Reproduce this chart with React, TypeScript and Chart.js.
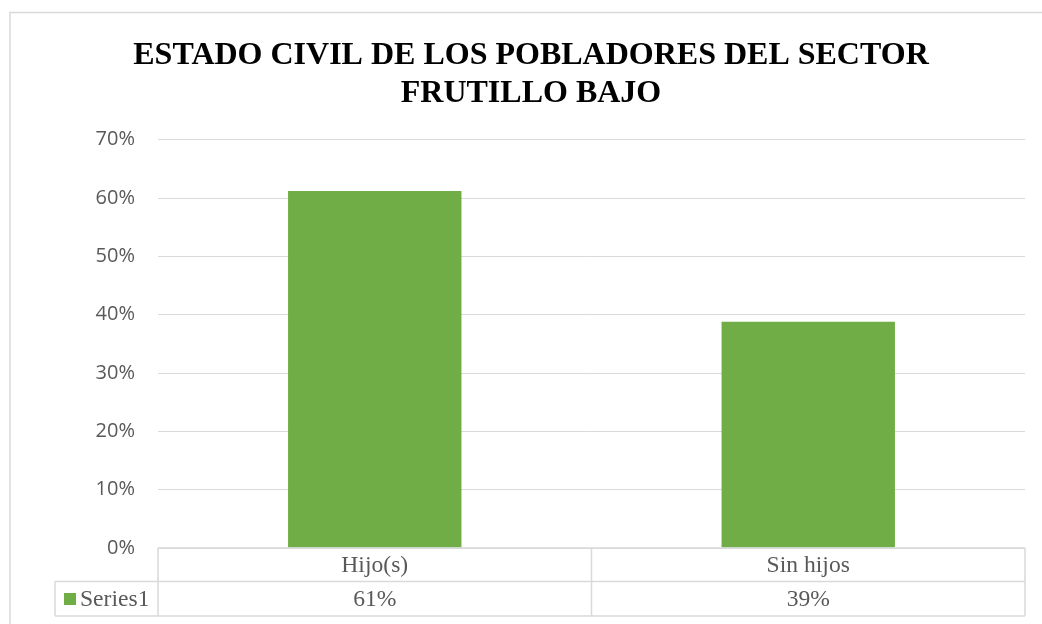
import React, { useEffect, useRef } from "react";
import { Chart, registerables } from "chart.js";

Chart.register(...registerables);

const titleLines = ["ESTADO CIVIL DE LOS POBLADORES DEL SECTOR", "FRUTILLO BAJO"];
const categories = ["Hijo(s)", "Sin hijos"];
const seriesName = "Series1";
const seriesValues = [0.612, 0.388];
const tableLabels = ["61%", "39%"];
const yTickMax = 0.7;
const yTickStep = 0.1;

const BAR_COLOR = "#70ad47";
const LINE_COLOR = "#d9d9d9";
const TEXT_COLOR = "#595959";
const SERIF = "'Liberation Serif', 'Times New Roman', serif";
const SANS = "'Open Sans', 'Liberation Sans', sans-serif";

const decorPlugin = {
  id: "decor",
  beforeDraw(chart: any) {
    const ctx = chart.ctx;
    ctx.save();
    ctx.fillStyle = "#ffffff";
    ctx.fillRect(0, 0, chart.width, chart.height);
    ctx.strokeStyle = LINE_COLOR;
    ctx.lineWidth = 1.5;
    ctx.strokeRect(10, 12.5, chart.width + 20, chart.height + 20);
    ctx.restore();
  },
  afterDraw(chart: any) {
    const ctx = chart.ctx;
    const area = chart.chartArea;
    const xs = chart.scales.x;
    ctx.save();
    // title
    ctx.fillStyle = "#000000";
    ctx.font = `bold 32px ${SERIF}`;
    ctx.textAlign = "center";
    ctx.textBaseline = "alphabetic";
    ctx.fillText(titleLines[0], 531, 64);
    ctx.fillText(titleLines[1], 531, 102);

    // data table
    const top = area.bottom;
    const mid = top + 33.5;
    const bot = mid + 34.5;
    const legendLeft = 55;
    ctx.strokeStyle = LINE_COLOR;
    ctx.lineWidth = 1.5;
    ctx.beginPath();
    ctx.moveTo(area.left, top);
    ctx.lineTo(area.right, top);
    ctx.moveTo(legendLeft, mid);
    ctx.lineTo(area.right, mid);
    ctx.moveTo(legendLeft, bot);
    ctx.lineTo(area.right, bot);
    ctx.moveTo(legendLeft, mid);
    ctx.lineTo(legendLeft, bot);
    ctx.moveTo(area.left, top);
    ctx.lineTo(area.left, bot);
    const n = categories.length;
    const colW = (area.right - area.left) / n;
    for (let i = 1; i <= n; i++) {
      const x = area.left + colW * i;
      ctx.moveTo(x, top);
      ctx.lineTo(x, bot);
    }
    ctx.stroke();

    ctx.fillStyle = TEXT_COLOR;
    ctx.font = `23.6px ${SERIF}`;
    ctx.textAlign = "center";
    ctx.textBaseline = "middle";
    categories.forEach((c, i) => {
      const x = xs.getPixelForValue(i);
      ctx.fillText(c, x, (top + mid) / 2 + 1);
      ctx.fillText(tableLabels[i], x, (mid + bot) / 2 + 1);
    });
    ctx.textAlign = "left";
    ctx.fillText(seriesName, 80, (mid + bot) / 2 + 1);
    ctx.fillStyle = BAR_COLOR;
    ctx.fillRect(64, 593, 12, 12);
    ctx.restore();
  },
};

export default function App() {
  const ref = useRef<HTMLCanvasElement>(null);
  useEffect(() => {
    if (!ref.current) return;
    const chart = new Chart(ref.current, {
      type: "bar",
      data: {
        labels: categories,
        datasets: [
          {
            label: seriesName,
            data: seriesValues,
            backgroundColor: BAR_COLOR,
            borderWidth: 0,
            categoryPercentage: 1,
            barPercentage: 0.4,
          },
        ],
      },
      options: {
        responsive: false,
        animation: false,
        layout: { padding: { left: 0, right: 17, top: 139.7, bottom: 76 } },
        plugins: {
          legend: { display: false },
          title: { display: false },
          tooltip: { enabled: false },
        },
        scales: {
          x: { display: false, offset: true },
          y: {
            min: 0,
            max: yTickMax,
            border: { display: false },
            grid: { color: LINE_COLOR, lineWidth: 1, drawTicks: false },
            ticks: {
              stepSize: yTickStep,
              padding: 23,
              color: TEXT_COLOR,
              font: { family: SANS, size: 20 },
              callback: (v: any) => Math.round(Number(v) * 100) + "%",
            },
            afterFit: (s: any) => {
              s.width = 158;
            },
          },
        },
      },
      plugins: [decorPlugin],
    });
    return () => chart.destroy();
  }, []);
  return (
    <div style={{ position: "fixed", left: 0, top: 0, width: 1042, height: 624, background: "#fff" }}>
      <canvas ref={ref} width={1042} height={624} style={{ display: "block" }} />
    </div>
  );
}
